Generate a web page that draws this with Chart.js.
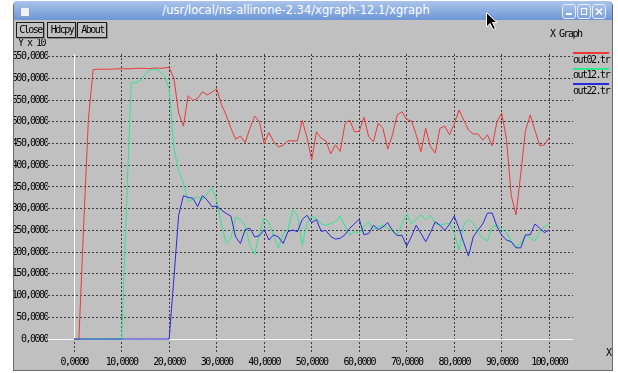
<!DOCTYPE html>
<html>
<head>
<meta charset="utf-8">
<script src="https://cdn.jsdelivr.net/npm/chart.js@4/dist/chart.umd.min.js"></script>
<style>
  html, body { margin: 0; padding: 0; }
  body { width: 618px; height: 373px; background: #ffffff; position: relative; overflow: hidden;
         font-family: "DejaVu Sans Mono", monospace; }
  #win { position: absolute; left: 13px; top: 1px; width: 598px; height: 369px;
         border: 1px solid #6a6a6a; border-top: none; background: #c0c0c0; overflow: hidden;
         border-radius: 5px 5px 0 0; }
  #plot { position: absolute; left: -14px; top: -1px; }
  #titlebar { position: absolute; left: -1px; top: 0; width: 600px; height: 19px;
              background: linear-gradient(#aac4eb, #6d96d5); border-radius: 5px 5px 0 0; }
  #wicon { position: absolute; left: 7px; top: 5px; width: 8px; height: 8px;
           background: #eef2f8; border: 1px solid #8aa0c0; border-top: 2px solid #9db6dc; }
  #wtitle { position: absolute; left: 16px; width: 534px; top: 2px; text-align: center;
            color: #ffffff; font: 11.5px "DejaVu Sans", sans-serif; white-space: nowrap; }
  .tbtn { position: absolute; top: 3px; width: 12px; height: 13px; border: 1px solid #e8eefa;
          border-radius: 3px; background: linear-gradient(#a5c0ea, #7ea3dc); }
  .tbtn svg { position: absolute; left: 0; top: 0; }
  .btn { position: absolute; top: 21px; height: 14px; border: 1px solid #1e1e1e; background: #c0c0c0;
         font-size: 10px; letter-spacing: -1.5px; line-height: 14px; text-align: center; color: #000;
         box-shadow: 1px 1px 0 #888; text-indent: 1px; }
  .txt { position: absolute; font-size: 10px; letter-spacing: -1.5px; color: #000; white-space: nowrap; line-height: 12px; }
  .key { position: absolute; height: 2px; width: 36px; }
</style>
</head>
<body>
<div id="win">
  <canvas id="plot" width="618" height="373"></canvas>
  <div id="titlebar">
    <div id="wicon"></div>
    <div id="wtitle">/usr/local/ns-allinone-2.34/xgraph-12.1/xgraph</div>
    <div class="tbtn" style="left:549px"><svg width="12" height="13"><rect x="3" y="8" width="6" height="2" fill="#fff"/></svg></div>
    <div class="tbtn" style="left:564px"><svg width="12" height="13"><rect x="3.5" y="3.5" width="5" height="6" fill="none" stroke="#fff"/></svg></div>
    <div class="tbtn" style="left:579px"><svg width="12" height="13"><path d="M3 3.5 L9 9.5 M9 3.5 L3 9.5" stroke="#fff" stroke-width="1.6"/></svg></div>
  </div>
  <div class="txt" style="left:4px;top:36px">Y x 10</div>
  <div class="btn" style="left:2px;width:26px">Close</div>
  <div class="btn" style="left:33px;width:27px">Hdcpy</div>
  <div class="btn" style="left:63px;width:28px">About</div>
  <div class="txt" style="left:536px;top:27px">X Graph</div>
  <div class="key" style="left:559px;top:51px;background:#e8393b"></div>
  <div class="txt" style="left:559px;top:53px">out02.tr</div>
  <div class="key" style="left:559px;top:67px;background:#2ee68c"></div>
  <div class="txt" style="left:559px;top:68px">out12.tr</div>
  <div class="key" style="left:559px;top:82px;background:#2a2ad8"></div>
  <div class="txt" style="left:559px;top:84px">out22.tr</div>
  <div class="txt" style="left:592px;top:346px">X</div>
</div>
<svg style="position:absolute;left:486px;top:12px" width="14" height="20">
  <path d="M0.5 0.5 L0.5 15 L4 11.5 L7 17.5 L9.5 16.5 L6.5 10.5 L11 10.5 Z" fill="#000" stroke="#fff" stroke-width="1"/>
</svg>
<script>
// time axis (seconds) and throughput per trace file, in units of 10^3
const times = [0, 1, 2, 3, 4, 5, 6, 7, 8, 9, 10, 11, 12, 13, 14, 15, 16, 17, 18, 19, 20,
  21, 22, 23, 24, 25, 26, 27, 28, 29, 30, 31, 32, 33, 34, 35, 36, 37, 38, 39, 40,
  41, 42, 43, 44, 45, 46, 47, 48, 49, 50, 51, 52, 53, 54, 55, 56, 57, 58, 59, 60,
  61, 62, 63, 64, 65, 66, 67, 68, 69, 70, 71, 72, 73, 74, 75, 76, 77, 78, 79, 80,
  81, 82, 83, 84, 85, 86, 87, 88, 89, 90, 91, 92, 93, 94, 95, 96, 97, 98, 99, 100];

const out02 = [0, 0, 260, 505, 620, 621, 621, 621, 621, 622, 622,
  622, 622, 623, 623, 623, 622, 624, 623, 624, 625,
  600, 520, 490, 560, 549, 554, 569, 562, 568, 576,
  540, 515, 485, 460, 467, 452, 485, 513, 500, 450,
  475, 454, 442, 446, 456, 456, 456, 503, 465, 412,
  477, 462, 456, 426, 447, 432, 495, 504, 477, 478,
  510, 466, 454, 497, 485, 437, 470, 516, 523, 505,
  502, 470, 431, 485, 443, 428, 485, 490, 470, 495,
  527, 504, 481, 472, 472, 458, 470, 445, 500, 520,
  460, 330, 286, 380, 480, 516, 480, 445, 447, 464];

const out12 = [0, 0, 0, 0, 0, 0, 0, 0, 0, 0, 0,
  300, 590, 590, 596, 610, 620, 621, 616, 606, 575,
  440, 386, 360, 316, 322, 328, 320, 335, 348, 320,
  265, 220, 232, 280, 275, 262, 215, 195, 245, 278,
  268, 238, 209, 243, 251, 297, 285, 216, 266, 282,
  278, 265, 262, 266, 270, 283, 260, 240, 247, 245,
  260, 270, 251, 259, 262, 255, 248, 239, 265, 288,
  265, 276, 286, 274, 285, 266, 262, 265, 266, 243,
  205, 262, 276, 266, 245, 232, 226, 259, 262, 252,
  245, 225, 212, 220, 239, 232, 226, 247, 259, 265];

const out22 = [0, 0, 0, 0, 0, 0, 0, 0, 0, 0, 0,
  0, 0, 0, 0, 0, 0, 0, 0, 0, 0,
  140, 285, 330, 326, 324, 305, 330, 320, 305, 306,
  297, 289, 283, 235, 220, 252, 255, 235, 238, 252,
  228, 240, 235, 220, 247, 251, 247, 275, 285, 268,
  275, 248, 250, 236, 230, 232, 240, 255, 265, 276,
  240, 243, 262, 252, 258, 268, 250, 238, 239, 214,
  236, 262, 243, 224, 245, 270, 262, 250, 264, 283,
  255, 222, 191, 235, 251, 265, 290, 290, 259, 239,
  228, 224, 210, 210, 240, 240, 265, 255, 245, 251];

const xTicks = [0, 10, 20, 30, 40, 50, 60, 70, 80, 90, 100];
const yTicks = [0, 50, 100, 150, 200, 250, 300, 350, 400, 450, 500, 550, 600, 650];

const tickFont = { family: '"DejaVu Sans Mono", monospace', size: 10 };
const fmt = v => v.toFixed(4).replace('.', ',');
const pts = vals => vals.map((v, i) => ({ x: times[i], y: v }));

// tight letter spacing for the small xgraph-style labels
const tightText = {
  id: 'tightText',
  beforeDraw(chart) { chart.ctx.letterSpacing = '-1.5px'; }
};

// white zero axes, drawn over the dotted grid
const zeroAxes = {
  id: 'zeroAxes',
  beforeDatasetsDraw(chart) {
    const { ctx, chartArea, scales } = chart;
    const x0 = Math.round(scales.x.getPixelForValue(0)) + 0.5;
    const y0 = Math.round(scales.y.getPixelForValue(0)) + 0.5;
    ctx.save();
    ctx.strokeStyle = '#ffffff';
    ctx.lineWidth = 1;
    ctx.beginPath();
    ctx.moveTo(chartArea.left, y0);
    ctx.lineTo(chartArea.right, y0);
    ctx.moveTo(x0, chartArea.top);
    ctx.lineTo(x0, y0);
    ctx.stroke();
    ctx.restore();
  }
};

const line = (data, color, order) => ({
  data: pts(data), borderColor: color, borderWidth: 1, pointRadius: 0,
  tension: 0, fill: false, order: order
});

new Chart(document.getElementById('plot'), {
  type: 'line',
  data: {
    datasets: [
      line(out02, '#e8393b', 3),
      line(out12, '#2ee68c', 2),
      line(out22, '#2a2ad8', 1)
    ]
  },
  plugins: [tightText, zeroAxes],
  options: {
    responsive: false,
    animation: false,
    devicePixelRatio: 1,
    layout: { padding: { left: 0, top: 54, right: 45, bottom: 0 } },
    plugins: { legend: { display: false }, tooltip: { enabled: false } },
    scales: {
      x: {
        type: 'linear', min: -5.5, max: 105,
        afterBuildTicks: s => { s.ticks = xTicks.map(v => ({ value: v })); },
        afterFit: s => { s.height = 20; },
        grid: { color: '#3c3c3c', lineWidth: 1, drawTicks: false },
        border: { display: false, dash: [2, 2] },
        ticks: { autoSkip: false, maxRotation: 0, padding: 3, color: '#000', font: tickFont, callback: fmt }
      },
      y: {
        type: 'linear', min: -32, max: 656,
        afterBuildTicks: s => { s.ticks = yTicks.map(v => ({ value: v })); },
        afterFit: s => { s.width = 48; },
        grid: { color: '#3c3c3c', lineWidth: 1, drawTicks: false },
        border: { display: false, dash: [2, 2] },
        ticks: { autoSkip: false, padding: 0, color: '#000', font: tickFont, callback: fmt }
      }
    }
  }
});
</script>
</body>
</html>
